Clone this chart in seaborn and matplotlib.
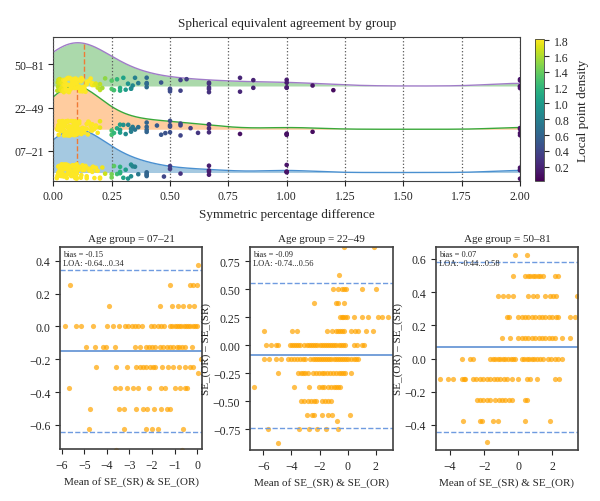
import numpy as np
import pandas as pd
import matplotlib
matplotlib.use("Agg")
import matplotlib.pyplot as plt
import seaborn as sns
from matplotlib.ticker import MultipleLocator

groups = ["07–21", "22–49", "50–81"]

# symmetric percentage difference per age group
spd_07 = [0.015, 0.018, 0.019, 0.021, 0.021, 0.024, 0.026, 0.027, 0.03, 0.031, 0.033, 0.034,
          0.036, 0.036, 0.04, 0.042, 0.043, 0.045, 0.047, 0.048, 0.05, 0.05, 0.053, 0.055,
          0.056, 0.058, 0.059, 0.062, 0.062, 0.064, 0.066, 0.067, 0.069, 0.071, 0.071, 0.074,
          0.077, 0.077, 0.079, 0.08, 0.083, 0.083, 0.086, 0.087, 0.088, 0.09, 0.091, 0.091,
          0.094, 0.095, 0.098, 0.1, 0.1, 0.1, 0.1, 0.1, 0.1, 0.1, 0.1, 0.1, 0.1, 0.1, 0.1,
          0.105, 0.108, 0.111, 0.111, 0.118, 0.12, 0.125, 0.125, 0.13, 0.133, 0.138, 0.143,
          0.143, 0.15, 0.154, 0.16, 0.167, 0.167, 0.17, 0.176, 0.182, 0.186, 0.19, 0.2, 0.2,
          0.21, 0.222,
          0.25, 0.25, 0.26, 0.273, 0.286, 0.286, 0.286, 0.3, 0.31, 0.32, 0.333, 0.333, 0.34,
          0.35, 0.364,
          0.4, 0.4, 0.4, 0.4, 0.474, 0.5, 0.5, 0.545, 0.667, 0.667, 0.667, 0.667,
          1.0, 1.0, 1.0, 1.0, 2.0, 2.0, 2.0, 2.0]
spd_22 = [0.016, 0.019, 0.02, 0.021, 0.022, 0.023, 0.025, 0.027, 0.029, 0.03, 0.031, 0.033,
          0.034, 0.035, 0.037, 0.038, 0.039, 0.04, 0.042, 0.044, 0.045, 0.046, 0.047, 0.048,
          0.05, 0.05, 0.052, 0.054, 0.055, 0.056, 0.057, 0.059, 0.06, 0.062, 0.063, 0.064,
          0.065, 0.067, 0.068, 0.069, 0.071, 0.071, 0.072, 0.073, 0.074, 0.077, 0.077, 0.079,
          0.08, 0.081, 0.083, 0.083, 0.085, 0.086, 0.087, 0.09, 0.091, 0.091, 0.093, 0.094,
          0.095, 0.098, 0.1, 0.1, 0.1, 0.1, 0.1, 0.1, 0.1, 0.1, 0.1, 0.1, 0.1, 0.1, 0.1,
          0.105, 0.108, 0.111, 0.111, 0.115, 0.118, 0.12, 0.125, 0.125, 0.13, 0.133, 0.135,
          0.138, 0.143, 0.143, 0.148, 0.15, 0.154, 0.16, 0.16, 0.167, 0.167, 0.172, 0.176,
          0.182, 0.186, 0.19, 0.2, 0.2,
          0.25, 0.25, 0.26, 0.273, 0.286, 0.286, 0.286, 0.3, 0.31, 0.321, 0.333,
          0.333, 0.34, 0.35, 0.364,
          0.4, 0.4, 0.4, 0.4, 0.444, 0.462, 0.48, 0.5, 0.5, 0.5, 0.5, 0.545, 0.545, 0.545,
          0.588, 0.62, 0.667, 0.667, 0.667, 0.667, 0.8, 1.0, 1.0, 1.0, 1.111,
          2.0, 2.0, 2.0, 2.0]
spd_50 = [0.017, 0.019, 0.02, 0.022, 0.024, 0.025, 0.027, 0.028, 0.03, 0.031, 0.033, 0.035,
          0.036, 0.038, 0.04, 0.042, 0.043, 0.044, 0.045, 0.048, 0.05, 0.05, 0.052, 0.053,
          0.056, 0.058, 0.059, 0.061, 0.062, 0.063, 0.065, 0.067, 0.069, 0.07, 0.071, 0.074,
          0.075, 0.077, 0.078, 0.08, 0.082, 0.083, 0.086, 0.087, 0.088, 0.09, 0.091, 0.093,
          0.095, 0.097, 0.1, 0.1, 0.1, 0.105, 0.108, 0.111, 0.111, 0.115, 0.118, 0.12, 0.122,
          0.125, 0.125, 0.125, 0.13, 0.133, 0.133,
          0.138, 0.143, 0.143, 0.148, 0.154, 0.16, 0.167, 0.167, 0.167, 0.176, 0.182,
          0.19, 0.2, 0.2, 0.2, 0.21, 0.222, 0.25, 0.25,
          0.26, 0.273, 0.286, 0.286, 0.3, 0.31, 0.32, 0.333, 0.333, 0.34, 0.35, 0.364,
          0.4, 0.4, 0.4, 0.4, 0.462, 0.5, 0.5, 0.5, 0.545, 0.545, 0.571,
          0.667, 0.667, 0.667, 0.667, 0.667, 0.8, 0.8, 0.857, 0.857,
          1.0, 1.0, 1.0, 1.0, 1.111, 1.2, 2.0, 2.0, 2.0, 2.0, 2.0]

# Bland-Altman points: (difference level, means at that level)
rows_07 = [
    (0.375, [0.03]),
    (0.25, [-5.62, -1.19, -0.31, -0.16, -0.01]),
    (0.125, [-3.92, -1.64, -1.12, -0.86, -0.61, -0.35, -0.12]),
    (0.0, [-5.87, -5.37, -5.13, -4.62, -4.0, -3.75, -3.48, -3.2, -3.05, -2.9, -2.75, -2.6,
           -2.45, -2.05, -1.9, -1.75, -1.6, -1.45, -1.2, -1.1, -1.0, -0.9, -0.8, -0.7, -0.6,
           -0.5, -0.4, -0.3, -0.2, -0.1, -0.02]),
    (-0.125, [-4.93, -4.54, -4.19, -4.04, -3.66, -2.77, -2.52, -2.27, -2.15, -2.0, -1.87,
              -1.64, -1.5, -1.35, -1.2, -1.05, -0.9, -0.78, -0.68, -0.53, -0.24]),
    (-0.2, [0.18]),
    (-0.25, [-4.48, -3.58, -3.11, -2.7, -2.55, -2.4, -2.25, -2.1, -1.95, -1.86, -1.56, -1.27,
             -1.05, -0.78, -0.53, -0.31, -0.19]),
    (-0.285, [0.06]),
    (-0.375, [-5.69, -3.66, -3.41, -3.11, -2.86, -2.63, -2.12, -1.59, -1.42, -1.0, -0.75,
              -0.53, -0.46]),
    (-0.5, [-4.73, -3.48, -3.22, -2.71, -2.42, -2.23, -1.93, -1.59, -1.34, -1.19]),
    (-0.625, [-4.81, -3.26, -2.27, -2.0, -1.75, -0.63]),
    (-0.75, [-3.6, -0.68]),
]
rows_22 = [
    (0.875, [-0.23, 1.9]),
    (0.625, [-0.59]),
    (0.5, [-1.06, -0.66, -0.42, -0.23, -0.11, 1.0, 2.0]),
    (0.375, [-2.39, -0.85, -0.7, -0.23]),
    (0.25, [-0.54, -0.42, -0.3, -0.18, -0.06, 0.48, 1.05, 1.48, 2.19, 2.47, 2.85]),
    (0.125, [-5.99, -3.98, -3.62, -1.49, -1.08, -0.85, -0.7, -0.55, -0.4, -0.25, 0.24, 0.53,
             0.77, 1.29, 1.83]),
    (0.0, [-5.83, -5.45, -5.12, -4.93, -4.1, -3.95, -3.8, -3.65, -3.5, -3.39, -3.08, -2.9,
           -2.75, -2.6, -2.45, -2.3, -2.15, -2.0, -1.85, -1.7, -1.55, -1.4, -1.25, -1.1,
           -0.95, -0.8, -0.65, -0.5, -0.35, -0.2, 0.48, 0.65, 1.0, 1.19]),
    (-0.125, [-5.92, -5.59, -5.12, -4.74, -4.26, -4.05, -3.85, -3.6, -3.4, -3.2, -3.03,
              -2.67, -2.5, -2.35, -2.2, -2.05, -1.9, -1.75, -1.6, -1.45, -1.3, -1.15, -1.0,
              -0.85, -0.7, -0.55, -0.4, -0.25, -0.1, 0.05, 0.25, 0.45, 0.6, 0.77]),
    (-0.25, [-4.93, -3.5, -3.35, -3.2, -3.0, -2.8, -2.44, -2.25, -2.05, -1.85, -1.65, -1.45,
             -1.25, -1.05, -0.85, -0.65, -0.45, -0.3, -0.18, 0.24]),
    (-0.375, [-6.64, -3.79, -2.74, -2.03, -1.85, -1.65, -1.37, -1.2, -1.0, -0.85, -0.7,
              -0.54]),
    (-0.5, [-3.31, -3.1, -2.85, -2.6, -2.4, -2.27, -1.8, -1.6, -1.4, -1.18]),
    (-0.625, [-2.91, -2.55, -2.37, -1.84, -1.42, -1.08, 0.17]),
    (-0.68, [-0.73]),
    (-0.75, [-5.69, -3.46, -2.74, -2.2, -1.56, -0.7]),
    (-0.875, [-4.98]),
]
rows_50 = [
    (0.625, [-0.19, 0.54]),
    (0.5, [-0.29, 0.4, 0.55, 0.7, 0.85, 1.0, 1.15, 1.28, 1.47, 2.16, 2.35]),
    (0.375, [-1.16, -0.87, -0.58, -0.29, 0.59, 0.89, 1.12, 1.57, 1.87, 2.06, 2.22, 3.43]),
    (0.25, [-0.68, -0.52, 0.0, 0.2, 0.4, 0.6, 0.8, 1.0, 1.2, 1.4, 1.6, 1.8, 2.0, 2.2, 2.35,
            3.04, 3.33]),
    (0.125, [-0.97, -0.48, 0.0, 0.2, 0.4, 0.6, 0.8, 1.0, 1.2, 1.4, 1.6, 1.8, 2.0, 2.16, 2.55,
             3.04]),
    (0.0, [-3.32, -2.83, -2.67, -1.65, -1.5, -1.35, -1.2, -1.05, -0.9, -0.75, -0.6, -0.45,
           -0.3, -0.19, 0.2, 0.35, 0.5, 0.65, 0.8, 0.95, 1.1, 1.25, 1.47, 1.77, 1.95, 2.15,
           2.35, 2.55]),
    (-0.125, [-4.59, -4.1, -3.84, -3.32, -3.2, -3.12, -2.63, -2.45, -2.25, -2.05, -1.85,
              -1.65, -1.45, -1.25, -1.05, -0.85, -0.68, -0.38, 0.01, 0.5, 0.69, 1.08, 2.16,
              2.41]),
    (-0.25, [-2.44, -2.25, -2.05, -1.85, -1.65, -1.36, -1.15, -0.95, -0.75, -0.55, -0.38,
             0.4, 0.5]),
    (-0.375, [-3.22, -2.24, -2.14, -1.5, -1.16, 0.4, 1.87]),
    (-0.5, [-1.81]),
]

bias = [-0.15, -0.09, 0.07]
loa_low = [-0.64, -0.74, -0.44]
loa_high = [0.34, 0.56, 0.58]

sns.set_style("ticks")
plt.rcParams["font.family"] = ["Liberation Serif", "DejaVu Serif"]
plt.rcParams["axes.edgecolor"] = "0.25"


def kde(values, at, adjust=0.8):
    v = np.asarray(values, dtype=float)
    bw = adjust * v.std(ddof=1) * len(v) ** (-1 / 5)
    z = (np.asarray(at)[:, None] - v[None, :]) / bw
    return np.exp(-0.5 * z ** 2).sum(axis=1) / (len(v) * bw * np.sqrt(2 * np.pi))


fig = plt.figure(figsize=(6, 5.02), dpi=100)

# ---- ridge plot ----
ax = fig.add_axes([0.0889, 0.638, 0.7778, 0.2869])
grid = np.linspace(0, 2, 400)
fill_cols = ["#a5c9e1", "#ffcc9f", "#abd9ab"]
line_cols = ["#4a90d0", "#3aa83a", "#a07cc8"]
norm = plt.Normalize(0.02, 1.82)
all_spd = [spd_07, spd_22, spd_50]

for i in [2, 1, 0]:
    vals = all_spd[i]
    h = kde(vals, grid)
    h = h / h.max()
    ax.fill_between(grid, i, i + h, color=fill_cols[i], lw=0, zorder=2)
    ax.plot(grid, i + h, color=line_cols[i], lw=1, zorder=2)
    med = np.median(vals)
    ax.plot([med, med], [i, i + np.interp(med, grid, h)], ls="--", color="#f07a35",
            lw=1, zorder=2)
    df = pd.DataFrame({"spd": vals, "pos": i + 0.025, "density": kde(vals, vals)})
    sns.stripplot(data=df, x="spd", y="pos", hue="density", palette="viridis",
                  hue_norm=norm, native_scale=True, orient="y", jitter=0.17, size=3.3,
                  linewidth=0, legend=False, ax=ax, zorder=3)

ax.set_xlim(0, 2)
ax.set_ylim(-0.19, 3.14)
ax.set_yticks([0.5, 1.5, 2.5], groups, fontsize=8.5)
ax.set_xticks(np.arange(0, 2.01, 0.25), [f"{t:.2f}" for t in np.arange(0, 2.01, 0.25)],
              fontsize=8.5)
ax.grid(axis="x", ls=":", color="0.35", lw=0.9)
ax.set_axisbelow(False)
ax.set_xlabel("Symmetric percentage difference", fontsize=9.5)
ax.set_ylabel("")
ax.set_title("Spherical equivalent agreement by group", fontsize=9.5, pad=8)

cax = fig.add_axes([0.892, 0.6375, 0.014, 0.2835])
sm = plt.cm.ScalarMappable(norm=norm, cmap="viridis")
cb = fig.colorbar(sm, cax=cax, ticks=np.arange(0.2, 1.81, 0.2))
cb.set_label("Local point density", fontsize=9.5, labelpad=6)
cb.ax.tick_params(labelsize=8.5, pad=4)
cb.outline.set_linewidth(0.6)

# ---- Bland-Altman panels ----
panel_pos = [[0.1, 0.1036, 0.2367, 0.4024],
             [0.4167, 0.1016, 0.2383, 0.4044],
             [0.7262, 0.1016, 0.2372, 0.4044]]
xlims = [(-6.08, 0.22), (-6.95, 3.23), (-4.84, 3.51)]
ylims = [(-0.746, 0.483), (-0.935, 0.878), (-0.551, 0.672)]
xsteps = [1, 2, 2]
ysteps = [0.2, 0.25, 0.2]

for k, rows in enumerate([rows_07, rows_22, rows_50]):
    bx = fig.add_axes(panel_pos[k])
    means = [m for d, ms in rows for m in ms]
    diffs = [d for d, ms in rows for m in ms]
    sns.scatterplot(x=means, y=diffs, color="orange", s=14, alpha=0.7, linewidth=0,
                    ax=bx)
    bx.axhline(bias[k], color="#4f86d0", lw=1.1)
    bx.axhline(loa_low[k], color="#6f9be0", lw=1.0, ls="--")
    bx.axhline(loa_high[k], color="#6f9be0", lw=1.0, ls="--")
    bx.text(0.02, 0.985, f"bias = {bias[k]:.2f}\nLOA: {loa_low[k]:.2f}...{loa_high[k]:.2f}",
            transform=bx.transAxes, va="top", ha="left", fontsize=6)
    bx.set_xlim(*xlims[k])
    bx.set_ylim(*ylims[k])
    bx.xaxis.set_major_locator(MultipleLocator(xsteps[k]))
    bx.yaxis.set_major_locator(MultipleLocator(ysteps[k]))
    bx.tick_params(labelsize=8.5)
    bx.set_title(f"Age group = {groups[k]}", fontsize=8, pad=4)
    bx.set_xlabel("Mean of SE_(SR) & SE_(OR)", fontsize=8)
    if k > 0:
        bx.set_ylabel("SE_(OR) – SE_(SR)", fontsize=8, labelpad=1)
    for sp in bx.spines.values():
        sp.set_linewidth(1.2)

fig.savefig("out.png", dpi=100)
